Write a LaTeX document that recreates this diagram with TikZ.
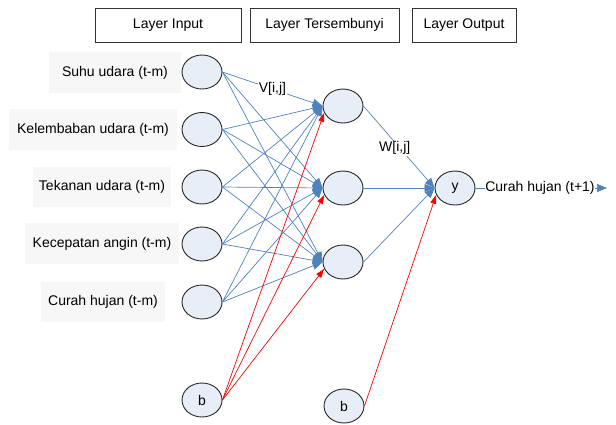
\documentclass[tikz,border=0pt]{standalone}
\usepackage{fontspec}
\setmainfont{Liberation Sans}
\usetikzlibrary{arrows.meta,shapes.geometric,shadows}
\definecolor{nodefill}{RGB}{232,238,248}
\definecolor{linkblue}{RGB}{79,129,189}
\definecolor{labelgray}{RGB}{247,247,247}
\newcommand{\fs}{\fontsize{14bp}{16bp}\selectfont}
\begin{document}
\begin{tikzpicture}[x=1bp,y=-1bp,
  neuron/.style={ellipse, draw=black!85, line width=0.9bp, fill=nodefill,
    minimum width=40bp, minimum height=34bp, inner sep=0pt, font=\fs},
  lbl/.style={fill=labelgray, inner sep=0pt, font=\fs, align=center},
  hdr/.style={draw=black!80, fill=white, line width=0.8bp, minimum height=34bp,
    inner sep=0pt, font=\fs,
    drop shadow={shadow xshift=1.2bp, shadow yshift=-1.2bp, opacity=0.6, fill=black!50}},
  vlink/.style={linkblue, line width=0.7bp, -{Triangle[length=10bp,width=8bp]}},
  rlink/.style={red, line width=0.7bp, -{Triangle[length=9bp,width=6bp]}},
  wlabel/.style={fill=white, text=black, inner sep=1bp, font=\fs}
]
\useasboundingbox (0,0) rectangle (616,424);

% header boxes
\node[hdr, minimum width=146bp] (h1) at (168,25) {Layer Input};
\node[hdr, minimum width=149bp] (h2) at (324.5,25) {Layer Tersembunyi};
\node[hdr, minimum width=104bp] (h3) at (464,25) {Layer Output};

% input labels
\node[lbl, minimum width=132bp, minimum height=41bp] (l1) at (115,72.5) {Suhu udara (t-m)};
\node[lbl, minimum width=168bp, minimum height=41bp] (l2) at (93,129.5) {Kelembaban udara (t-m)};
\node[lbl, minimum width=138bp, minimum height=40bp] (l3) at (102,187) {Tekanan udara (t-m)};
\node[lbl, minimum width=154bp, minimum height=41bp] (l4) at (102,243.5) {Kecepatan angin (t-m)};
\node[lbl, minimum width=124bp, minimum height=40bp] (l5) at (103,302) {Curah hujan (t-m)};

% neurons
\node[neuron] (i1) at (202,72) {};
\node[neuron] (i2) at (202,129.5) {};
\node[neuron] (i3) at (202,187) {};
\node[neuron] (i4) at (202,244) {};
\node[neuron] (i5) at (202,302) {};
\node[neuron] (b1) at (202,400) {b};

\node[neuron] (n1) at (343,106) {};
\node[neuron] (n2) at (343,188) {};
\node[neuron] (n3) at (343,262) {};
\node[neuron] (b2) at (344,406) {b};

\node[neuron] (y) at (455,188) {y};

% input -> hidden
\foreach \i in {1,...,5}{
  \foreach \j in {1,2,3}{
    \draw[vlink] (i\i.east) -- (n\j.west);
  }
}
\path (i1.east) -- (n1.west) node[wlabel, pos=0.5] (v) {V[i,j]};

% bias -> hidden
\foreach \j in {1,2,3}{
  \draw[rlink] (b1.east) -- (n\j.200);
}

% hidden -> output
\draw[vlink] (n1.east) -- (y.west) node[wlabel, pos=0.44, yshift=-6bp] (w) {W[i,j]};
\draw[vlink] (n2.east) -- (y.west);
\draw[vlink] (n3.east) -- (y.west);
\draw[rlink] (b2.east) -- (y.200);

% output
\coordinate (out) at (607,188);
\draw[vlink] (y.east) -- (out);
\node[wlabel, inner sep=0.5bp] (ot) at (540,188) {Curah hujan (t+1)};
\end{tikzpicture}
\end{document}
